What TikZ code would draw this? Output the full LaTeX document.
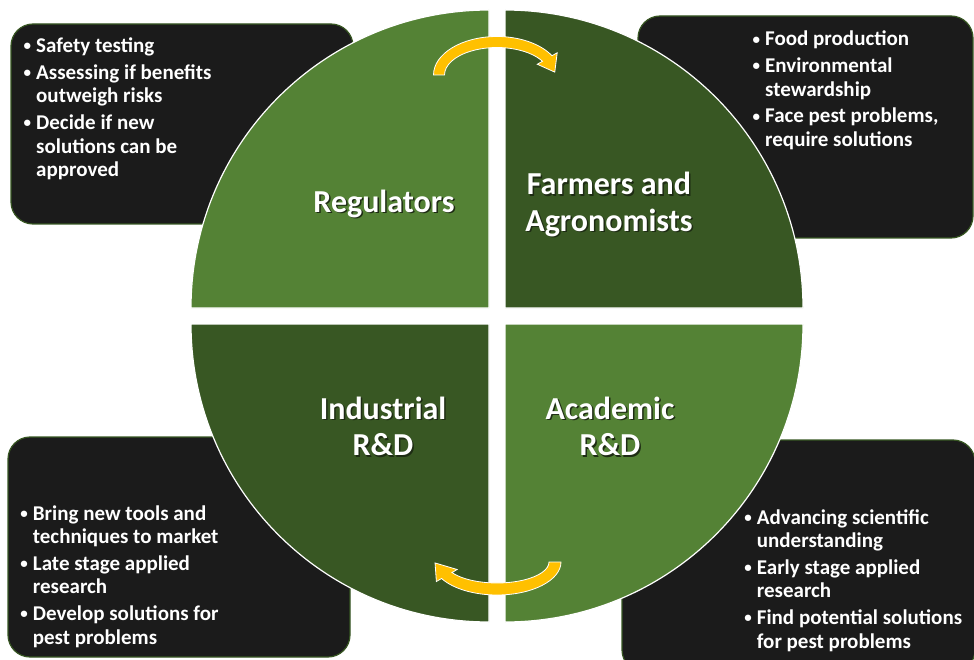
\documentclass[tikz,border=0pt]{standalone}
\usepackage{fontspec}
\setmainfont{Carlito}

\definecolor{lightgrn}{RGB}{84,130,53}
\definecolor{darkgrn}{RGB}{56,87,35}
\definecolor{boxblack}{RGB}{27,27,27}
\definecolor{amber}{RGB}{255,192,0}
\definecolor{shade}{RGB}{30,44,20}

\newcommand{\bul}{\strut\makebox[14pt][l]{\hspace{1.5pt}\raisebox{1.8pt}{\fontsize{15}{15}\selectfont\textbullet}}}
\newcommand{\hang}{\strut\hspace*{14pt}}
\newcommand{\shd}[1]{\makebox[0pt][l]{\hspace{1.5pt}\raisebox{-1.5pt}{\color{shade}#1}}#1}

\tikzset{
  infobox/.style={fill=boxblack, draw=darkgrn, line width=1.2pt, rounded corners=22pt},
  quarter/.style={draw=white, line width=1.2pt},
  info/.style={anchor=north west, inner sep=0pt, align=left, text=white,
    font=\fontsize{21}{23.4}\selectfont\bfseries},
  role/.style={anchor=north, inner sep=0pt, align=center, text=white,
    font=\fontsize{32}{36.6}\selectfont\bfseries},
  turn/.style={fill=amber, draw=white, line width=0.8pt}
}

\begin{document}
\begin{tikzpicture}[x=1pt,y=-1pt]
  \useasboundingbox (0,0) rectangle (974,660);
  % dark boxes behind the disc
  \draw[infobox] (11,24) rectangle (353,224);
  \draw[infobox] (638,16) rectangle (973,238);
  \draw[infobox] (8,437) rectangle (350,657);
  \draw[infobox] (622,440) rectangle (975,672);
  % four quarters
  \path[quarter, fill=lightgrn] (489,308) -- (191,308) arc[start angle=180, end angle=270, radius=298] -- cycle;
  \path[quarter, fill=darkgrn]  (505,308) -- (505,10) arc[start angle=270, end angle=360, radius=298] -- cycle;
  \path[quarter, fill=darkgrn]  (489,324) -- (191,324) arc[start angle=180, end angle=90, radius=298] -- cycle;
  \path[quarter, fill=lightgrn] (505,324) -- (803,324) arc[start angle=0, end angle=90, radius=298] -- cycle;
  % curved arrows
  \begin{scope}[shift={(497,75)}]
    \filldraw[turn] (180:52.5 and 27.5) -- (180:63.5 and 38.5)
      arc[start angle=180, end angle=330, x radius=63.5, y radius=38.5]
      -- (330:69.5 and 44.5) -- (355:58 and 33) -- (330:46.5 and 21.5)
      -- (330:52.5 and 27.5) arc[start angle=330, end angle=180, x radius=52.5, y radius=27.5] -- cycle;
  \end{scope}
  \begin{scope}[shift={(497,562)}]
    \filldraw[turn] (0:52 and 21) -- (0:64 and 33)
      arc[start angle=0, end angle=150, x radius=64, y radius=33]
      -- (150:70 and 39) -- (178:62 and 27) -- (150:46 and 15)
      -- (150:52 and 21) arc[start angle=150, end angle=0, x radius=52, y radius=21] -- cycle;
  \end{scope}
  % quarter labels
  \node[role] (reg)  at (384,186.4) {\strut\shd{Regulators}};
  \node[role] (farm) at (609,169)   {\strut\shd{Farmers and}\\\shd{Agronomists}};
  \node[role] (ind)  at (383,393.4) {\strut\shd{Industrial}\\\shd{R\&D}};
  \node[role] (acad) at (610,393.4) {\strut\shd{Academic}\\\shd{R\&D}};
  % bullet notes
  \node[info] (regnotes) at (22,36.1) {\bul Safety testing\\[3.4pt]
    \bul Assessing if benefits\\\hang outweigh risks\\[3.4pt]
    \bul Decide if new\\\hang solutions can be\\\hang approved};
  \node[info] (farmnotes) at (751,29.4) {\bul Food production\\[3.4pt]
    \bul Environmental\\\hang stewardship\\[3.4pt]
    \bul Face pest problems,\\\hang require solutions};
  \node[info] (indnotes) at (18.7,503.8) {\bul Bring new tools and\\\hang techniques to market\\[3.4pt]
    \bul Late stage applied\\\hang research\\[3.4pt]
    \bul Develop solutions for\\\hang pest problems};
  \node[info] (acadnotes) at (742.7,507.8) {\bul Advancing scientific\\\hang understanding\\[3.4pt]
    \bul Early stage applied\\\hang research\\[3.4pt]
    \bul Find potential solutions\\\hang for pest problems};
\end{tikzpicture}
\end{document}
